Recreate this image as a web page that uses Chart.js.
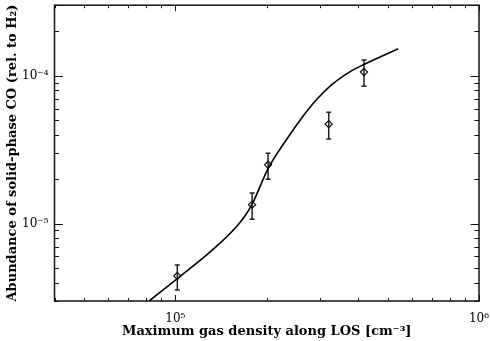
<!DOCTYPE html>
<html><head><meta charset="utf-8">
<script src="https://cdn.jsdelivr.net/npm/chart.js@4/dist/chart.umd.min.js"></script>
<style>html,body{margin:0;padding:0;background:#fff}</style>
</head><body>
<canvas id="c" width="490" height="341"></canvas>
<script>
// Observed points
const densityObs = [1.015e5, 1.79e5, 2.02e5, 3.2e5, 4.18e5];
const abundObs   = [4.43e-6, 1.345e-5, 2.5e-5, 4.71e-5, 1.06e-4];
const errLow     = [3.56e-6, 1.07e-5, 2.0e-5, 3.74e-5, 8.49e-5];
const errHigh    = [5.25e-6, 1.61e-5, 2.99e-5, 5.67e-5, 1.278e-4];
// Model curve
const densityModel = [8.2e4, 1.018e5, 1.203e5, 1.40e5, 1.605e5, 1.692e5, 1.785e5, 2.03e5, 2.33e5, 2.633e5, 2.90e5, 3.275e5, 3.755e5, 4.21e5, 4.72e5, 5.42e5];
const abundModel   = [3.0e-6, 4.27e-6, 5.62e-6, 7.35e-6, 9.77e-6, 1.122e-5, 1.34e-5, 2.4e-5, 3.74e-5, 5.33e-5, 6.81e-5, 8.71e-5, 1.063e-4, 1.202e-4, 1.339e-4, 1.525e-4];
// Ticks
const xMajor = [1e5, 1e6];
const xTickLabels = ['10\u2075', '10\u2076'];
const xMinor = [4e4, 5e4, 6e4, 7e4, 8e4, 9e4, 2e5, 3e5, 4e5, 5e5, 6e5, 7e5, 8e5, 9e5];
const yMajor = [1e-5, 1e-4];
const yTickLabels = ['10\u207B\u2075', '10\u207B\u2074'];
const yMinor = [3e-6, 4e-6, 5e-6, 6e-6, 7e-6, 8e-6, 9e-6, 2e-5, 3e-5, 4e-5, 5e-5, 6e-5, 7e-5, 8e-5, 9e-5, 2e-4, 3e-4];

const FONT = '"DejaVu Serif", serif';

const frame = {
  id: 'frame',
  beforeDatasetsDraw(chart) {
    const {ctx, scales: {x, y}} = chart;
    ctx.save();
    ctx.strokeStyle = '#222';
    ctx.lineWidth = 1.5;
    densityObs.forEach((d, i) => {
      const px = x.getPixelForValue(d);
      const y1 = y.getPixelForValue(errLow[i]);
      const y2 = y.getPixelForValue(errHigh[i]);
      ctx.beginPath();
      ctx.moveTo(px, y1); ctx.lineTo(px, y2);
      ctx.moveTo(px - 2.5, y1); ctx.lineTo(px + 2.5, y1);
      ctx.moveTo(px - 2.5, y2); ctx.lineTo(px + 2.5, y2);
      ctx.stroke();
    });
    ctx.restore();
  },
  afterDraw(chart) {
    const {ctx, chartArea: {left, right, top, bottom}, scales: {x, y}} = chart;
    ctx.save();
    ctx.strokeStyle = '#111';
    ctx.lineWidth = 1.5;
    ctx.strokeRect(left, top, right - left, bottom - top);
    ctx.lineWidth = 1;
    const seg = (a, b, c, d) => { ctx.beginPath(); ctx.moveTo(a, b); ctx.lineTo(c, d); ctx.stroke(); };
    const xt = (v, len) => { const p = Math.round(x.getPixelForValue(v)) + 0.5; seg(p, bottom, p, bottom - len); seg(p, top, p, top + len); };
    const yt = (v, len) => { const p = Math.round(y.getPixelForValue(v)) + 0.5; seg(left, p, left + len, p); seg(right, p, right - len, p); };
    xMajor.forEach(v => xt(v, 6));
    xMinor.forEach(v => xt(v, 3));
    yMajor.forEach(v => yt(v, 8.5));
    yMinor.forEach(v => yt(v, 4.5));
    ctx.restore();
  }
};

new Chart(document.getElementById('c'), {
  data: {
    datasets: [
      {
        type: 'line',
        data: densityModel.map((d, i) => ({x: d, y: abundModel[i]})),
        borderColor: '#000', borderWidth: 1.6, pointRadius: 0,
        cubicInterpolationMode: 'monotone', fill: false, order: 0
      },
      {
        type: 'scatter',
        data: densityObs.map((d, i) => ({x: d, y: abundObs[i]})),
        pointStyle: 'rectRot', pointRadius: 3.6, borderColor: '#111', borderWidth: 1.2,
        backgroundColor: 'rgba(0,0,0,0)', order: 1
      }
    ]
  },
  options: {
    responsive: false, animation: false, devicePixelRatio: 1,
    layout: {padding: {left: 0.5, right: 11, top: 1, bottom: 0}},
    plugins: {legend: {display: false}, tooltip: {enabled: false}},
    scales: {
      x: {
        type: 'logarithmic', min: 4e4, max: 1e6,
        afterBuildTicks: s => { s.ticks = xMajor.map(v => ({value: v, major: true})); },
        afterFit: s => { s.height = 40; s.paddingLeft = 0; s.paddingRight = 0; },
        grid: {display: false, drawTicks: false},
        border: {display: false},
        ticks: {
          autoSkip: false, maxRotation: 0, padding: 11, color: '#000',
          font: {family: FONT, size: 12},
          callback: (v, i) => xTickLabels[i]
        },
        title: {display: true, text: 'Maximum gas density along LOS [cm\u207B\u00B3]', color: '#000',
          font: {family: FONT, size: 13, weight: 'bold'}, padding: {top: 0, bottom: 1.5}}
      },
      y: {
        type: 'logarithmic', min: 3e-6, max: 3e-4,
        afterBuildTicks: s => { s.ticks = yMajor.map(v => ({value: v, major: true})); },
        afterFit: s => { s.width = 54; s.paddingTop = 0; s.paddingBottom = 0; },
        grid: {display: false, drawTicks: false},
        border: {display: false},
        ticks: {
          autoSkip: false, padding: 6, color: '#000',
          font: {family: FONT, size: 12},
          callback: (v, i) => yTickLabels[i]
        },
        title: {display: true, text: 'Abundance of solid-phase CO (rel. to H\u2082)', color: '#000',
          font: {family: FONT, size: 13, weight: 'bold'}, padding: {top: 4.5, bottom: 0}}
      }
    }
  },
  plugins: [frame]
});
</script>
</body></html>
